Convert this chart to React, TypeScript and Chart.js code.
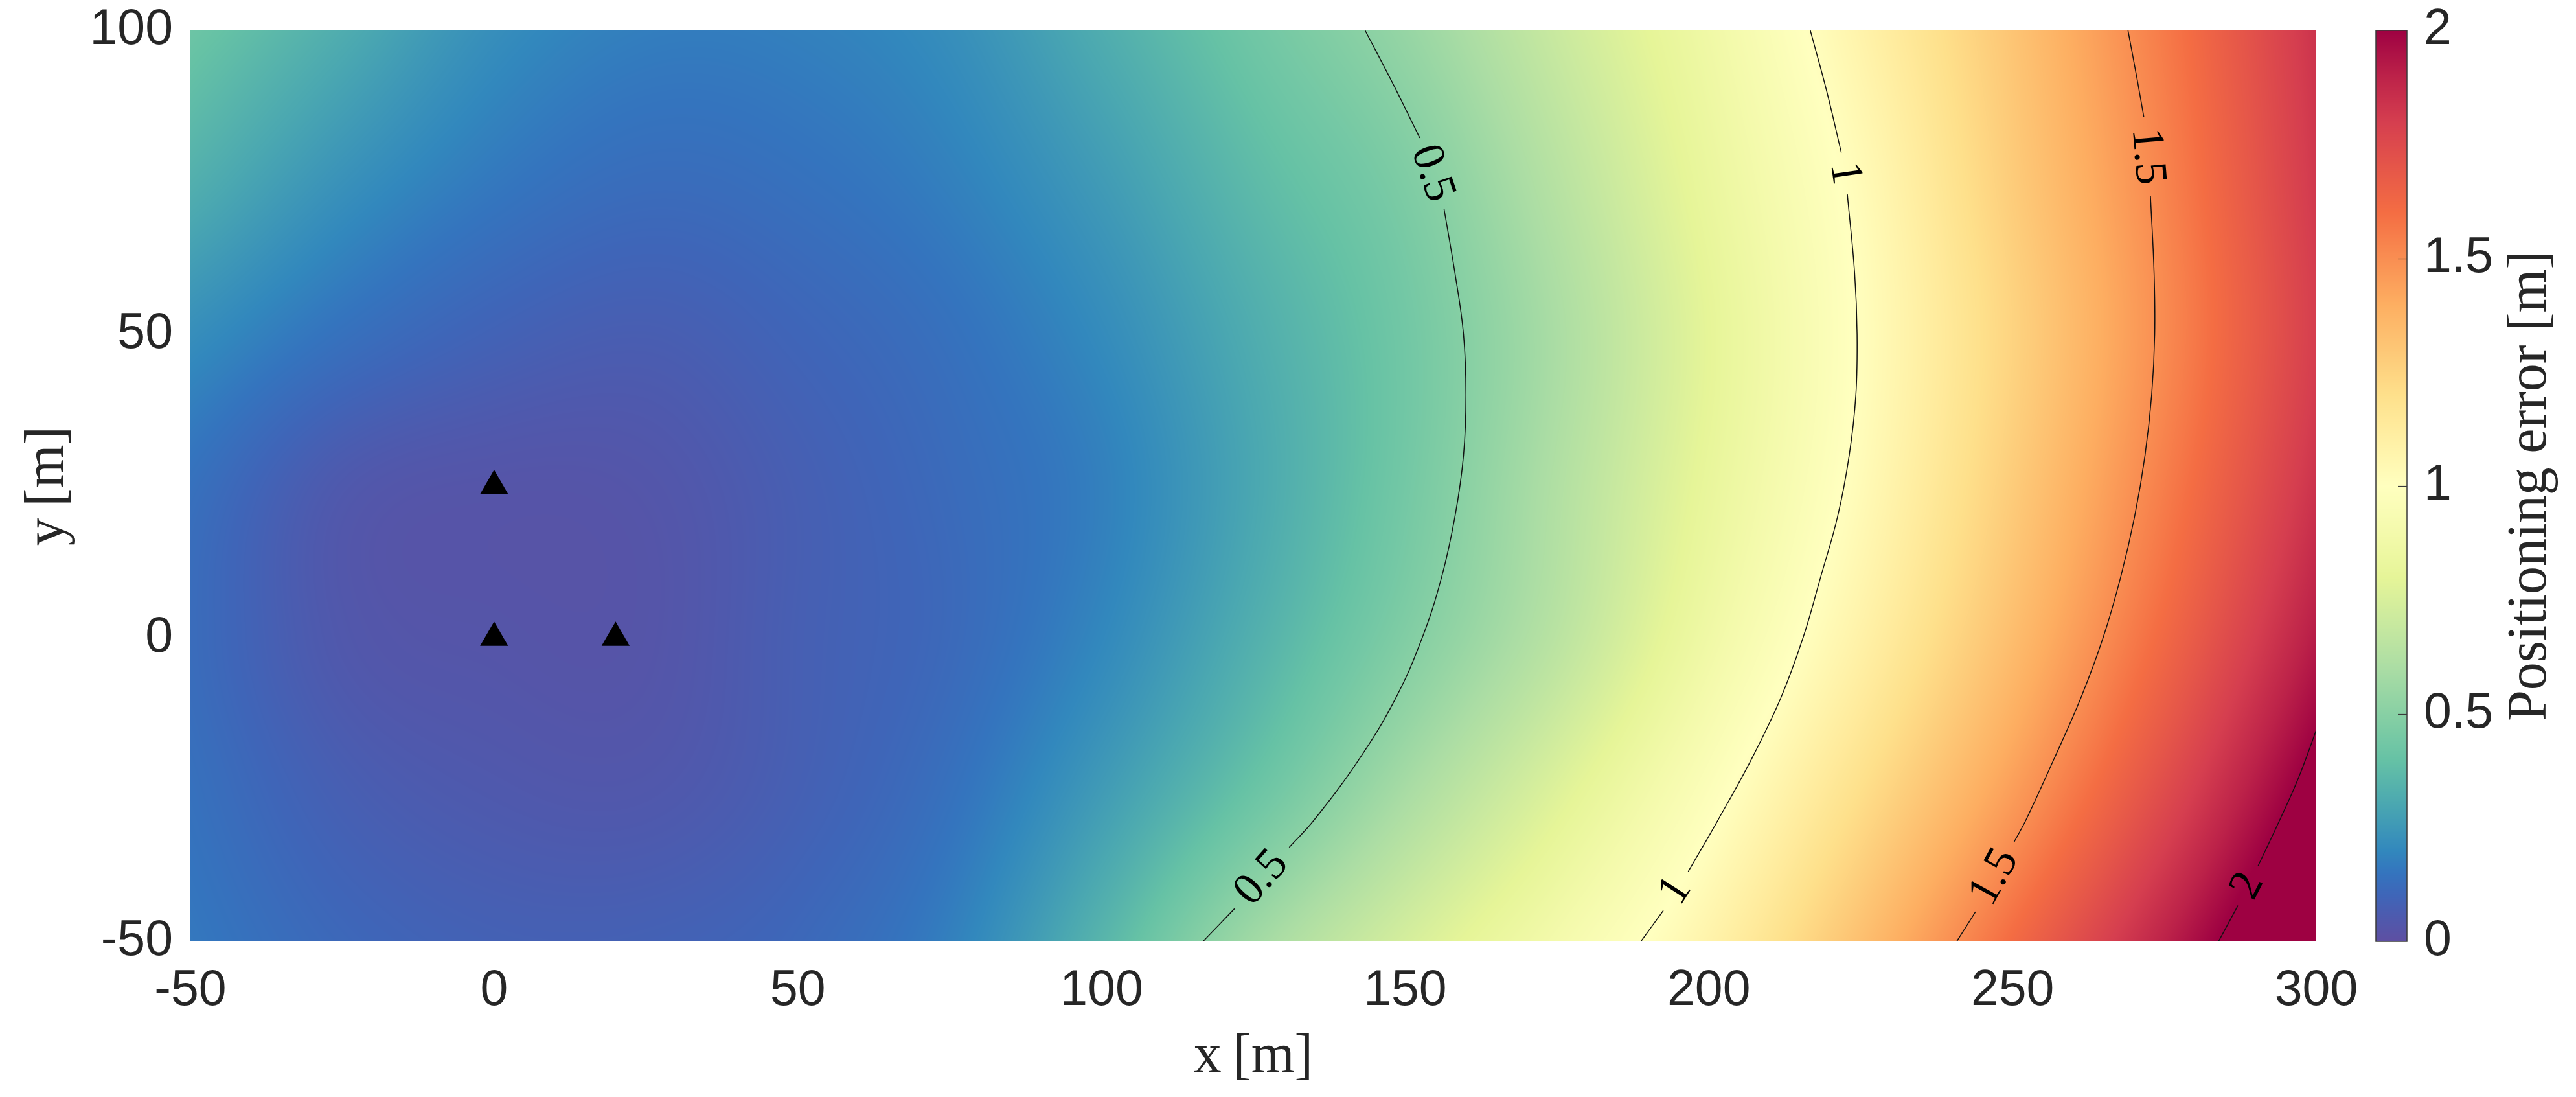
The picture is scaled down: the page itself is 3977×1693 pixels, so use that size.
import React, { useEffect, useRef } from 'react';
import { Chart, registerables } from 'chart.js';

Chart.register(...registerables);

const WIDTH = 3977;
const HEIGHT = 1693;

// ---- Axis ticks ----
const xTickValues = [-50, 0, 50, 100, 150, 200, 250, 300];
const yTickValues = [-50, 0, 50, 100];
const colorbarTickValues = [0, 0.5, 1, 1.5, 2];

// ---- Positioning error [m] read on a 25 m grid ----
const gridX = [-50, -25, 0, 25, 50, 75, 100, 125, 150, 175, 200, 225, 250, 275, 300];
const gridY = [100, 75, 50, 25, 0, -25, -50];
const errAtY100 = [0.42, 0.32, 0.22, 0.175, 0.18, 0.22, 0.32, 0.43, 0.54, 0.7, 0.87, 1.08, 1.31, 1.56, 1.84];
const errAtY75 = [0.33, 0.23, 0.16, 0.125, 0.14, 0.18, 0.26, 0.37, 0.47, 0.64, 0.83, 1.03, 1.28, 1.53, 1.82];
const errAtY50 = [0.22, 0.14, 0.09, 0.07, 0.1, 0.14, 0.21, 0.32, 0.435, 0.6, 0.8, 1.01, 1.25, 1.51, 1.8];
const errAtY25 = [0.14, 0.05, 0.03, 0.035, 0.075, 0.12, 0.18, 0.3, 0.44, 0.62, 0.82, 1.03, 1.28, 1.55, 1.84];
const errAtY0 = [0.125, 0.045, 0.03, 0.03, 0.075, 0.115, 0.2, 0.33, 0.48, 0.65, 0.87, 1.09, 1.34, 1.62, 1.92];
const errAtYm25 = [0.14, 0.075, 0.05, 0.045, 0.08, 0.14, 0.26, 0.41, 0.59, 0.77, 0.97, 1.2, 1.45, 1.74, 2.05];
const errAtYm50 = [0.16, 0.11, 0.085, 0.085, 0.11, 0.18, 0.35, 0.57, 0.74, 0.9, 1.08, 1.33, 1.61, 1.9, 2.2];
const errorRows = [errAtY100, errAtY75, errAtY50, errAtY25, errAtY0, errAtYm25, errAtYm50];

// ---- Anchors ----
const anchorX = [0, 0, 20];
const anchorY = [0, 25, 0];

// ---- Contour lines (segments split where the label sits) ----
const contour05 = [
  [[143.4, 100], [148.1, 91], [152.4, 82.3]],
  [[156.4, 70.6], [158.2, 60], [159.6, 50], [160, 40], [159.6, 30], [158.2, 20], [156, 10], [152.8, 0], [148.4, -10], [142.4, -20], [135, -30], [130.9, -34.5]],
  [[121.9, -44.6], [116.7, -50]],
];
const contour10 = [
  [[216.7, 100], [219.4, 90], [221.8, 79.9]],
  [[222.8, 73], [224, 60], [224.4, 50], [224.2, 40], [223.1, 30], [221.2, 20], [218.4, 10], [215.5, 0], [211.8, -10], [207, -20], [201.5, -30], [196.6, -38.5]],
  [[192.5, -44.9], [188.8, -50]],
];
const contour15 = [
  [[269, 100], [270.5, 92], [271.6, 85.8]],
  [[272.7, 72.7], [273.3, 60], [273.4, 50], [272.9, 40], [271.8, 30], [270.1, 20], [267.8, 10], [264.9, 0], [261.2, -10], [256.8, -20], [252.2, -30], [250.2, -33.7]],
  [[243.9, -45.1], [240.8, -50]],
];
const contour20 = [
  [[300, -15.2], [297.1, -23], [293.8, -30.4], [290.4, -37.6]],
  [[287.1, -44.1], [283.9, -50]],
];
const contourLevels = ['0.5', '1', '1.5', '2'];
const contourSets = [contour05, contour10, contour15, contour20];

// ---- Colormap (Spectral, reversed) ----
const cmapStops = [0, 0.05, 0.1, 0.15, 0.2, 0.3, 0.4, 0.5, 0.6, 0.7, 0.8, 0.9, 1.0, 1.1, 1.2, 1.3, 1.4, 1.5, 1.6, 1.7, 1.8, 1.9, 2.0];
const cmapColors = ['#5e4fa2', '#4f59ad', '#3f65b8', '#3474be', '#3288bd', '#4aa7b1', '#66c2a5', '#88d0a4', '#abdda4', '#c9e99f', '#e6f598', '#f4faac', '#ffffbf', '#fff0a5', '#fee08b', '#fdc776', '#fdae61', '#f98e52', '#f46d43', '#e55649', '#d53e4f', '#bc2249', '#9e0142'];

const TEXT = '#262626';
const SANS = "'Liberation Sans', Arial, Helvetica, sans-serif";
const SERIF = "'Liberation Serif', 'Times New Roman', serif";

function hexToRgb(hex: string): number[] {
  const n = parseInt(hex.slice(1), 16);
  return [(n >> 16) & 255, (n >> 8) & 255, n & 255];
}
const cmapRgb = cmapColors.map(hexToRgb);
const LUT_N = 2048;
const lut: number[][] = [];
for (let i = 0; i < LUT_N; i++) {
  const v = (i / (LUT_N - 1)) * 2;
  let k = 0;
  while (k < cmapStops.length - 2 && v > cmapStops[k + 1]) k++;
  const t = Math.min(1, Math.max(0, (v - cmapStops[k]) / (cmapStops[k + 1] - cmapStops[k])));
  const a = cmapRgb[k];
  const b = cmapRgb[k + 1];
  lut.push([a[0] + (b[0] - a[0]) * t, a[1] + (b[1] - a[1]) * t, a[2] + (b[2] - a[2]) * t]);
}
function colorOf(v: number): number[] {
  const c = Math.min(2, Math.max(0, v));
  return lut[Math.round((c / 2) * (LUT_N - 1))];
}

function crWeights(f: number): number[] {
  const f2 = f * f;
  const f3 = f2 * f;
  return [0.5 * (-f + 2 * f2 - f3), 0.5 * (2 - 5 * f2 + 3 * f3), 0.5 * (f + 4 * f2 - 3 * f3), 0.5 * (-f2 + f3)];
}
function sampleAt(arr: number[], k: number): number {
  const n = arr.length;
  if (k < 0) return 2 * arr[0] - arr[1];
  if (k > n - 1) return 2 * arr[n - 1] - arr[n - 2];
  return arr[k];
}
function interp1(arr: number[], t: number): number {
  const n = arr.length;
  let i = Math.floor(t);
  if (i < 0) i = 0;
  if (i > n - 2) i = n - 2;
  const w = crWeights(t - i);
  return w[0] * sampleAt(arr, i - 1) + w[1] * sampleAt(arr, i) + w[2] * sampleAt(arr, i + 1) + w[3] * sampleAt(arr, i + 2);
}

const heatmapPlugin = {
  id: 'errorHeatmap',
  beforeDatasetsDraw(chart: any) {
    const { ctx, chartArea, scales } = chart;
    const xs = scales.x;
    const ys = scales.y;
    const left = Math.round(chartArea.left);
    const top = Math.round(chartArea.top);
    const w = Math.round(chartArea.right) - left;
    const h = Math.round(chartArea.bottom) - top;
    const img = ctx.createImageData(w, h);
    const data = img.data;
    const stepX = gridX[1] - gridX[0];
    const stepY = gridY[1] - gridY[0];
    const rows: Float32Array[] = errorRows.map((row) => {
      const out = new Float32Array(w);
      for (let i = 0; i < w; i++) {
        const X = xs.getValueForPixel(left + i + 0.5);
        out[i] = interp1(row, (X - gridX[0]) / stepX);
      }
      return out;
    });
    const n = rows.length;
    const rowVal = (k: number, i: number) => {
      if (k < 0) return 2 * rows[0][i] - rows[1][i];
      if (k > n - 1) return 2 * rows[n - 1][i] - rows[n - 2][i];
      return rows[k][i];
    };
    for (let j = 0; j < h; j++) {
      const Y = ys.getValueForPixel(top + j + 0.5);
      const t = (Y - gridY[0]) / stepY;
      let k = Math.floor(t);
      if (k < 0) k = 0;
      if (k > n - 2) k = n - 2;
      const wt = crWeights(t - k);
      for (let i = 0; i < w; i++) {
        const v = wt[0] * rowVal(k - 1, i) + wt[1] * rowVal(k, i) + wt[2] * rowVal(k + 1, i) + wt[3] * rowVal(k + 2, i);
        const c = colorOf(v);
        const p = (j * w + i) * 4;
        data[p] = c[0];
        data[p + 1] = c[1];
        data[p + 2] = c[2];
        data[p + 3] = 255;
      }
    }
    ctx.putImageData(img, left, top);
  },
};

const contourLabelPlugin = {
  id: 'contourLabels',
  afterDatasetsDraw(chart: any) {
    const { ctx, scales } = chart;
    const xs = scales.x;
    const ys = scales.y;
    ctx.save();
    ctx.fillStyle = '#000';
    ctx.font = `70px ${SERIF}`;
    ctx.textAlign = 'center';
    ctx.textBaseline = 'middle';
    contourSets.forEach((segs, ci) => {
      for (let s = 0; s < segs.length - 1; s++) {
        const a = segs[s][segs[s].length - 1];
        const b = segs[s + 1][0];
        const ax = xs.getPixelForValue(a[0]);
        const ay = ys.getPixelForValue(a[1]);
        const bx = xs.getPixelForValue(b[0]);
        const by = ys.getPixelForValue(b[1]);
        let dx = bx - ax;
        let dy = by - ay;
        if (dx < 0) {
          dx = -dx;
          dy = -dy;
        }
        ctx.save();
        ctx.translate((ax + bx) / 2, (ay + by) / 2);
        ctx.rotate(Math.atan2(dy, dx));
        ctx.fillText(contourLevels[ci], 0, 0);
        ctx.restore();
      }
    });
    ctx.restore();
  },
};

const colorbarPlugin = {
  id: 'colorbar',
  afterDraw(chart: any) {
    const { ctx, chartArea, scales } = chart;
    const cb = scales.cb;
    const x0 = Math.round(chartArea.right) + 92;
    const barW = 48;
    const yTop = cb.getPixelForValue(2);
    const yBot = cb.getPixelForValue(0);
    ctx.save();
    for (let py = Math.floor(yTop); py < Math.ceil(yBot); py++) {
      const c = colorOf(cb.getValueForPixel(py + 0.5));
      ctx.fillStyle = `rgb(${Math.round(c[0])},${Math.round(c[1])},${Math.round(c[2])})`;
      ctx.fillRect(x0, py, barW, 1);
    }
    ctx.strokeStyle = '#3a3a3a';
    ctx.lineWidth = 1.5;
    ctx.strokeRect(x0, yTop, barW, yBot - yTop);
    ctx.lineWidth = 1.2;
    colorbarTickValues.forEach((v) => {
      if (v <= 0 || v >= 2) return;
      const y = Math.round(cb.getPixelForValue(v)) + 0.5;
      ctx.beginPath();
      ctx.moveTo(x0 + barW - 14, y);
      ctx.lineTo(x0 + barW, y);
      ctx.stroke();
    });
    ctx.restore();
  },
};

const titlesPlugin = {
  id: 'axisTitles',
  afterDraw(chart: any) {
    const { ctx, chartArea } = chart;
    const midX = (chartArea.left + chartArea.right) / 2;
    const midY = (chartArea.top + chartArea.bottom) / 2;
    ctx.save();
    ctx.fillStyle = TEXT;
    ctx.font = `86px ${SERIF}`;
    ctx.textAlign = 'center';
    ctx.textBaseline = 'alphabetic';
    ctx.fillText('x\u2009[m]', midX, chartArea.bottom + 202);
    ctx.save();
    ctx.translate(chartArea.left - 197, midY);
    ctx.rotate(-Math.PI / 2);
    ctx.fillText('y\u2009[m]', 0, 0);
    ctx.restore();
    ctx.save();
    ctx.translate(chartArea.right + 354, midY);
    ctx.rotate(-Math.PI / 2);
    ctx.fillText('Positioning error [m]', 0, 0);
    ctx.restore();
    ctx.restore();
  },
};

function tickSetter(values: number[]) {
  return (scale: any) => {
    scale.ticks = values.map((value) => ({ value }));
  };
}

export default function App() {
  const canvasRef = useRef<HTMLCanvasElement>(null);

  useEffect(() => {
    const canvas = canvasRef.current;
    if (!canvas) return;

    const lineDatasets: any[] = [];
    contourSets.forEach((segs) => {
      segs.forEach((seg) => {
        lineDatasets.push({
          data: seg.map(([x, y]) => ({ x, y })),
          showLine: true,
          borderColor: '#111111',
          borderWidth: 1.5,
          pointRadius: 0,
          pointHoverRadius: 0,
          tension: 0.4,
          fill: false,
          xAxisID: 'x',
          yAxisID: 'y',
        });
      });
    });

    const anchorDataset = {
      data: anchorX.map((x, i) => ({ x, y: anchorY[i] })),
      pointStyle: 'triangle',
      pointRadius: 25,
      pointHoverRadius: 25,
      backgroundColor: '#000000',
      borderColor: '#000000',
      borderWidth: 0,
      showLine: false,
      xAxisID: 'x',
      yAxisID: 'y',
    };

    const tickFont = { family: SANS, size: 77 };

    const chart = new Chart(canvas, {
      type: 'scatter',
      data: { datasets: [anchorDataset, ...lineDatasets] },
      options: {
        animation: false,
        responsive: false,
        devicePixelRatio: 1,
        events: [],
        layout: { padding: { top: 47, left: 0, right: 0, bottom: 0 } },
        plugins: { legend: { display: false }, tooltip: { enabled: false } },
        scales: {
          x: {
            type: 'linear',
            position: 'bottom',
            min: -50,
            max: 300,
            afterBuildTicks: tickSetter(xTickValues),
            ticks: { font: tickFont, color: TEXT, padding: 0, autoSkip: false, maxRotation: 0, callback: (v: any) => String(v) },
            grid: { display: true, drawOnChartArea: false, drawTicks: true, tickLength: 31, tickColor: 'rgba(0,0,0,0)' },
            border: { display: false },
            afterFit: (s: any) => {
              s.height = 240;
            },
          },
          y: {
            type: 'linear',
            position: 'left',
            min: -50,
            max: 100,
            afterBuildTicks: tickSetter(yTickValues),
            ticks: { font: tickFont, color: TEXT, padding: 0, autoSkip: false, callback: (v: any) => String(v) },
            grid: { display: true, drawOnChartArea: false, drawTicks: true, tickLength: 27, tickColor: 'rgba(0,0,0,0)' },
            border: { display: false },
            afterFit: (s: any) => {
              s.width = 294;
            },
          },
          cb: {
            type: 'linear',
            position: 'right',
            min: 0,
            max: 2,
            afterBuildTicks: tickSetter(colorbarTickValues),
            ticks: { font: tickFont, color: TEXT, padding: 0, autoSkip: false, callback: (v: any) => String(v) },
            grid: { display: true, drawOnChartArea: false, drawTicks: true, tickLength: 166, tickColor: 'rgba(0,0,0,0)' },
            border: { display: false },
            afterFit: (s: any) => {
              s.width = 401;
            },
          },
        },
      } as any,
      plugins: [heatmapPlugin, contourLabelPlugin, colorbarPlugin, titlesPlugin],
    } as any);

    return () => chart.destroy();
  }, []);

  return (
    <div style={{ position: 'absolute', left: 0, top: 0, width: WIDTH, height: HEIGHT, background: '#ffffff' }}>
      <canvas ref={canvasRef} width={WIDTH} height={HEIGHT} style={{ width: WIDTH, height: HEIGHT, display: 'block' }} />
    </div>
  );
}
